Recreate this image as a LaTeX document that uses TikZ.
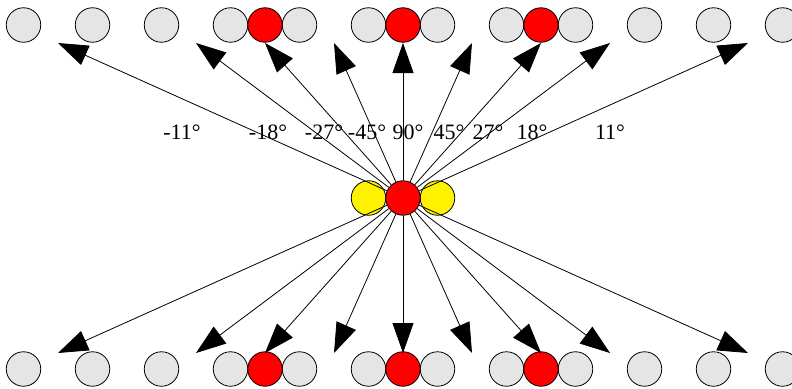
\documentclass[tikz,border=0pt]{standalone}
\usepackage{fontspec}
\setmainfont{Liberation Serif}
\usetikzlibrary{arrows.meta}

\begin{document}
\begin{tikzpicture}[
		x=1pt,
		y=-1pt,
		every node/.style={font=\fontsize{22}{26}\selectfont},
		atom/.style={circle, draw, line width=0.8pt, minimum size=34.5pt, inner sep=0pt},
		host/.style={atom, fill=gray!20},
		dopant/.style={atom, fill=red},
		probe/.style={atom, fill=yellow},
		ray/.style={line width=0.8pt, -{Triangle[length=30pt,width=21pt]}}
		]
		
		\useasboundingbox (0,0) rectangle (792,388);
		
		\def\Mid{403}
		\def\Unit{34.5}
		\def\TopY{25}
		\def\BotY{369}
		
		% Two rows of host atoms, above and below.
		\foreach \k [count=\i] in {-11,-9,...,11} {
			\node[host] (t\i) at ({\Mid+\k*\Unit},\TopY) {};
			\node[host] (b\i) at ({\Mid+\k*\Unit},\BotY) {};
		}
		
		% Red atoms sitting between the hosts.
		\foreach \k [count=\i] in {-4,0,4} {
			\node[dopant] (tr\i) at ({\Mid+\k*\Unit},\TopY) {};
			\node[dopant] (br\i) at ({\Mid+\k*\Unit},\BotY) {};
		}
		
		% Central group.
		\node[probe] (yl) at ({\Mid-\Unit},198) {};
		\node[probe] (yr) at ({\Mid+\Unit},198) {};
		\node[dopant] (c) at (\Mid,198) {};
		
		% Rays up and down.
		\foreach \k [count=\i] in {-10,-6,-4,-2,0,2,4,6,10} {
			\coordinate (u\i) at ({\Mid+\k*\Unit},43);
			\coordinate (d\i) at ({\Mid+\k*\Unit},353);
			\draw[ray] (c) -- (u\i);
			\draw[ray] (c) -- (d\i);
		}
		
		% Angle labels.
		\foreach \x/\lab [count=\i] in {182/-11,268/-18,324/-27,367/-45,408/90,449/45,488/27,532/18,610/11} {
			\node[anchor=base, inner sep=0pt] (l\i) at (\x,139) {\lab°};
		}
		
	\end{tikzpicture}
\end{document}
